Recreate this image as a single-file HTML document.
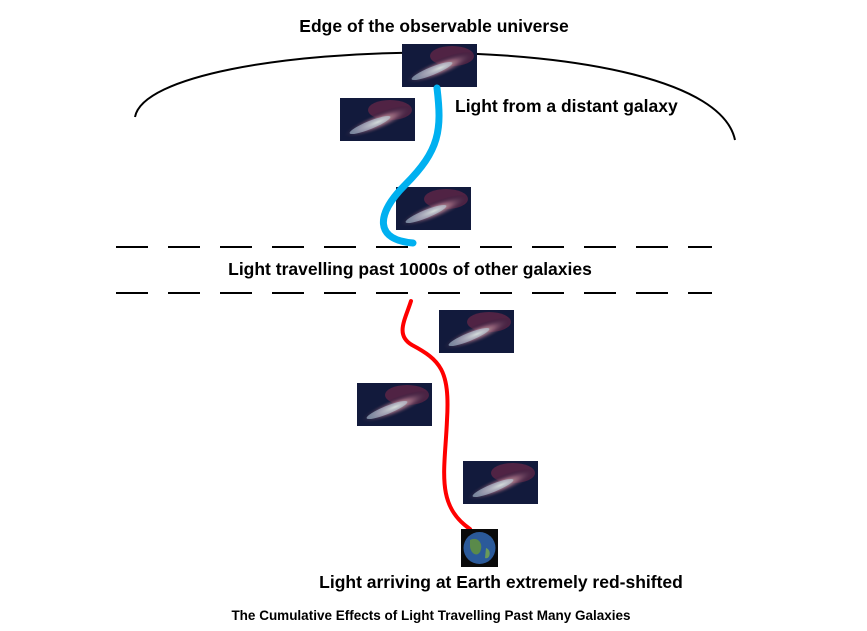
<!DOCTYPE html>
<html><head><style>
body{margin:0;background:#fff;width:867px;height:626px;overflow:hidden;font-family:"Liberation Sans",sans-serif}
</style></head><body>
<svg width="867" height="626" viewBox="0 0 867 626" xmlns="http://www.w3.org/2000/svg">
<defs>
<radialGradient id="gc" cx="0.5" cy="0.5" r="0.5">
<stop offset="0" stop-color="#f4e6d0"/>
<stop offset="0.5" stop-color="#9a6a80" stop-opacity="0.7"/>
<stop offset="1" stop-color="#0c1230" stop-opacity="0"/>
</radialGradient>
<g id="gal">
<rect x="0" y="0" width="75" height="43" fill="#121a3c"/>
<ellipse cx="50" cy="12" rx="22" ry="10" fill="#7a2a4a" opacity="0.6"/>
<ellipse cx="38" cy="24" rx="38" ry="9" fill="url(#gc)" transform="rotate(-22 38 24)"/>
<ellipse cx="30" cy="27" rx="22" ry="4" fill="#bcd6e6" opacity="0.55" transform="rotate(-22 30 27)"/>
</g>
</defs>
<text x="434" y="32" font-family="Liberation Sans" font-weight="bold" font-size="17.5" text-anchor="middle">Edge of the observable universe</text>
<path d="M135,117 C150,35 710,20 735,140" fill="none" stroke="#000" stroke-width="2"/>
<use href="#gal" x="402" y="44"/>
<use href="#gal" x="340" y="98"/>
<use href="#gal" x="396" y="187"/>
<use href="#gal" x="439" y="310"/>
<use href="#gal" x="357" y="383"/>
<use href="#gal" x="463" y="461"/>
<path d="M437,88 C442,130 440,150 405,185 C375,215 375,240 413,243" fill="none" stroke="#00b0f0" stroke-width="7" stroke-linecap="round"/>
<text x="455" y="112" font-family="Liberation Sans" font-weight="bold" font-size="17.5">Light from a distant galaxy</text>
<line x1="116" y1="247" x2="712" y2="247" stroke="#000" stroke-width="2" stroke-dasharray="32,20"/>
<line x1="116" y1="293" x2="712" y2="293" stroke="#000" stroke-width="2" stroke-dasharray="32,20"/>
<text x="410" y="275" font-family="Liberation Sans" font-weight="bold" font-size="17.5" text-anchor="middle">Light travelling past 1000s of other galaxies</text>
<path d="M411,301 C405,320 395,335 412,345 C440,360 450,370 447,420 C445,470 435,505 470,529" fill="none" stroke="#ff0000" stroke-width="4" stroke-linecap="round"/>
<rect x="461" y="529" width="37" height="38" fill="#0a0a0a"/>
<circle cx="479.5" cy="548" r="16" fill="#2b5a9a"/>
<path d="M470,540 C478,536 484,544 480,552 C476,558 470,552 470,546Z" fill="#5a8a4a"/>
<path d="M486,548 C492,550 490,560 485,558Z" fill="#6a9a5a"/>
<text x="501" y="588" font-family="Liberation Sans" font-weight="bold" font-size="17.5" text-anchor="middle">Light arriving at Earth extremely red-shifted</text>
<text x="431" y="620" font-family="Liberation Sans" font-weight="bold" font-size="13.5" text-anchor="middle">The Cumulative Effects of Light Travelling Past Many Galaxies</text>
</svg>
</body></html>
